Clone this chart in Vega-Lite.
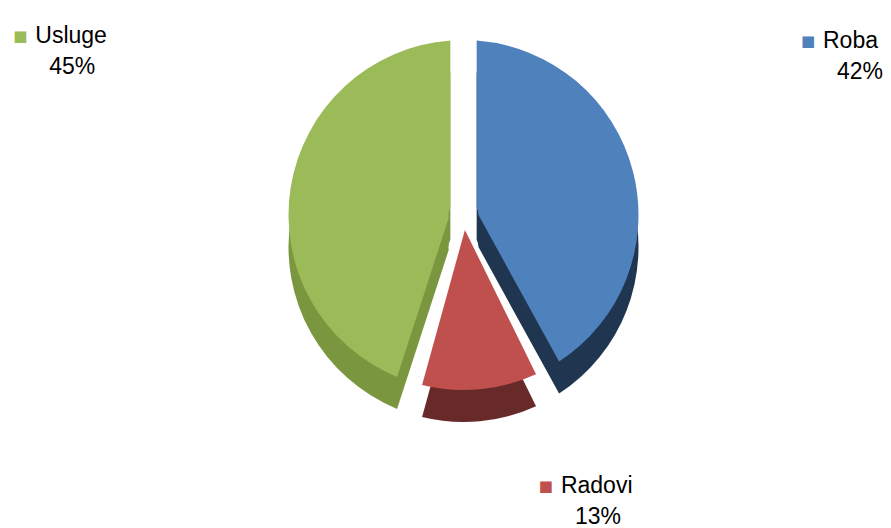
{
  "$schema": "https://vega.github.io/schema/vega-lite/v6.json",
  "width": 855,
  "height": 430,
  "autosize": {"type": "none"},
  "padding": {"left": 36, "top": 0, "right": 0, "bottom": 98},
  "background": "white",
  "config": {"view": {"stroke": null}, "font": "Liberation Sans"},
  "data": {
    "values": [
      {"name": "Roba", "value": 42, "pct": "42%", "i": 1},
      {"name": "Radovi", "value": 13, "pct": "13%", "i": 2},
      {"name": "Usluge", "value": 45, "pct": "45%", "i": 3}
    ]
  },
  "layer": [
    {
      "mark": {"type": "arc", "outerRadius": 175, "innerRadius": 15, "padAngle": 0.15, "yOffset": 32},
      "encoding": {
        "theta": {"field": "value", "type": "quantitative", "stack": true},
        "order": {"field": "i", "type": "quantitative"},
        "color": {"field": "name", "type": "nominal", "legend": null,
          "scale": {"domain": ["Roba", "Radovi", "Usluge"], "range": ["#1F3550", "#672A29", "#7A973F"]}}
      }
    },
    {
      "mark": {"type": "arc", "outerRadius": 175, "innerRadius": 15, "padAngle": 0.15},
      "encoding": {
        "theta": {"field": "value", "type": "quantitative", "stack": true},
        "order": {"field": "i", "type": "quantitative"},
        "fill": {"field": "name", "type": "nominal", "legend": null,
          "scale": {"domain": ["Roba", "Radovi", "Usluge"], "range": ["#4F81BD", "#C0504D", "#9BBB59"]}}
      }
    },
    {
      "mark": {"type": "text", "text": "■", "font": "DejaVu Sans", "fontSize": 15, "align": "center", "baseline": "middle", "dx": -40, "dy": -16},
      "encoding": {
        "theta": {"field": "value", "type": "quantitative", "stack": true, "scale": {"type": "pow", "exponent": 1.6, "domain": [0, 100], "range": [0.6266, 7.348]}},
        "order": {"field": "i", "type": "quantitative"},
        "radius": {"field": "value", "type": "quantitative", "scale": {"type": "pow", "exponent": 2.3, "zero": false, "domain": [13, 45], "range": [312, 435]}},
        "fill": {"field": "name", "type": "nominal", "legend": null,
          "scale": {"domain": ["Roba", "Radovi", "Usluge"], "range": ["#4F81BD", "#C0504D", "#9BBB59"]}}
      }
    },
    {
      "mark": {"type": "text", "fontSize": 23, "align": "left", "baseline": "middle", "dx": -25, "dy": -16, "color": "black"},
      "encoding": {
        "theta": {"field": "value", "type": "quantitative", "stack": true, "scale": {"type": "pow", "exponent": 1.6, "domain": [0, 100], "range": [0.6266, 7.348]}},
        "order": {"field": "i", "type": "quantitative"},
        "radius": {"field": "value", "type": "quantitative", "scale": {"type": "pow", "exponent": 2.3, "zero": false, "domain": [13, 45], "range": [312, 435]}},
        "detail": {"field": "name", "type": "nominal"},
        "text": {"field": "name", "type": "nominal"}
      }
    },
    {
      "mark": {"type": "text", "fontSize": 23, "align": "center", "baseline": "middle", "dx": 12, "dy": 15, "color": "black"},
      "encoding": {
        "theta": {"field": "value", "type": "quantitative", "stack": true, "scale": {"type": "pow", "exponent": 1.6, "domain": [0, 100], "range": [0.6266, 7.348]}},
        "order": {"field": "i", "type": "quantitative"},
        "radius": {"field": "value", "type": "quantitative", "scale": {"type": "pow", "exponent": 2.3, "zero": false, "domain": [13, 45], "range": [312, 435]}},
        "detail": {"field": "name", "type": "nominal"},
        "text": {"field": "pct", "type": "nominal"}
      }
    }
  ],
  "resolve": {"scale": {"theta": "independent", "radius": "independent", "color": "independent", "fill": "shared"}}
}
